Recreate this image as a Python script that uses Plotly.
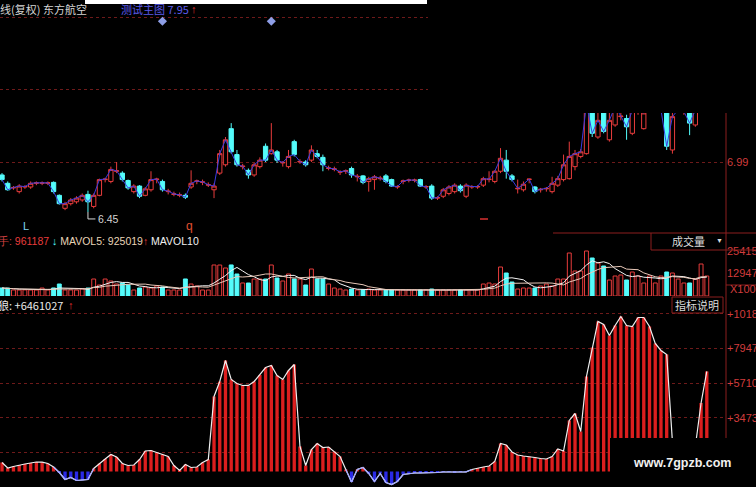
import plotly.graph_objects as go
import pandas as pd

W, H = 756, 487

# ---------------- data ----------------
open_ = [6.85, 6.76, 6.71, 6.67, 6.72, 6.72, 6.76, 6.76, 6.76, 6.77,
         6.63, 6.49, 6.54, 6.56, 6.58, 6.64, 6.51, 6.63, 6.80, 6.78,
         6.89, 6.87, 6.79, 6.67, 6.73, 6.63, 6.69, 6.80, 6.78, 6.67,
         6.64, 6.63, 6.63, 6.72, 6.78, 6.77, 6.74, 6.69, 6.87, 6.96,
         7.35, 7.07, 6.94, 6.90, 6.85, 6.94, 7.16, 7.08, 7.10, 6.98,
         6.94, 7.21, 6.99, 6.99, 7.01, 7.08, 7.04, 6.92, 6.91, 6.88,
         6.89, 6.92, 6.83, 6.84, 6.78, 6.80, 6.81, 6.84, 6.80, 6.72,
         6.78, 6.79, 6.79, 6.80, 6.72, 6.73, 6.60, 6.62, 6.65, 6.67,
         6.73, 6.62, 6.72, 6.72, 6.74, 6.80, 6.78, 6.89, 7.01, 6.84,
         6.70, 6.69, 6.80, 6.72, 6.69, 6.70, 6.67, 6.74, 6.80, 6.81,
         6.94, 7.05, 7.08, 7.66, 7.26, 7.59, 7.23, 7.39, 7.48, 7.46,
         7.30, 7.53, 7.35, 7.55, 7.57, 7.55, 7.59, 7.12, 7.55, 7.53,
         7.59, 7.39]
high = [6.87, 6.78, 6.73, 6.75, 6.74, 6.78, 6.78, 6.78, 6.78, 6.78,
        6.64, 6.56, 6.60, 6.62, 6.65, 6.68, 6.65, 6.81, 6.82, 6.94,
        6.99, 6.89, 6.80, 6.75, 6.74, 6.72, 6.89, 6.82, 6.80, 6.70,
        6.67, 6.66, 6.65, 6.90, 6.80, 6.80, 6.77, 6.76, 7.12, 7.26,
        7.41, 7.12, 6.97, 6.92, 6.98, 7.04, 7.19, 7.41, 7.12, 7.00,
        7.12, 7.23, 7.02, 7.01, 7.17, 7.12, 7.07, 6.95, 6.94, 6.90,
        6.91, 6.94, 6.86, 6.85, 6.83, 6.85, 6.84, 6.86, 6.81, 6.74,
        6.80, 6.81, 6.81, 6.81, 6.74, 6.75, 6.62, 6.71, 6.74, 6.76,
        6.75, 6.76, 6.74, 6.74, 6.83, 6.89, 6.90, 7.14, 7.12, 6.86,
        6.80, 6.78, 6.81, 6.73, 6.71, 6.72, 6.83, 6.84, 7.07, 7.21,
        7.12, 7.13, 7.66, 7.70, 7.52, 7.64, 7.55, 7.66, 7.52, 7.50,
        7.59, 7.57, 7.55, 7.59, 7.61, 7.59, 7.62, 7.55, 7.59, 7.57,
        7.62, 7.59]
low = [6.78, 6.68, 6.69, 6.65, 6.70, 6.70, 6.74, 6.74, 6.74, 6.65,
       6.53, 6.47, 6.52, 6.54, 6.56, 6.45, 6.49, 6.62, 6.77, 6.76,
       6.87, 6.78, 6.69, 6.65, 6.60, 6.62, 6.67, 6.76, 6.67, 6.64,
       6.62, 6.61, 6.59, 6.70, 6.75, 6.74, 6.72, 6.60, 6.85, 6.94,
       7.08, 6.94, 6.91, 6.81, 6.83, 6.92, 6.99, 7.07, 6.98, 6.94,
       6.92, 7.05, 6.97, 6.94, 6.99, 7.03, 6.89, 6.90, 6.89, 6.85,
       6.86, 6.82, 6.78, 6.75, 6.67, 6.69, 6.79, 6.76, 6.72, 6.70,
       6.75, 6.77, 6.77, 6.72, 6.70, 6.58, 6.58, 6.60, 6.63, 6.65,
       6.66, 6.60, 6.70, 6.70, 6.72, 6.77, 6.76, 6.87, 6.81, 6.78,
       6.65, 6.67, 6.76, 6.65, 6.66, 6.67, 6.65, 6.72, 6.78, 6.80,
       6.90, 7.03, 7.07, 7.26, 7.24, 7.30, 7.21, 7.37, 7.44, 7.23,
       7.28, 7.50, 7.34, 7.52, 7.53, 7.52, 7.12, 7.08, 7.52, 7.50,
       7.28, 7.37]
close = [6.80, 6.69, 6.715, 6.73, 6.725, 6.76, 6.765, 6.765, 6.765, 6.67,
         6.54, 6.54, 6.58, 6.60, 6.63, 6.56, 6.63, 6.80, 6.805, 6.91,
         6.895, 6.80, 6.71, 6.73, 6.62, 6.70, 6.80, 6.805, 6.69, 6.675,
         6.645, 6.635, 6.61, 6.76, 6.785, 6.775, 6.745, 6.73, 7.08, 7.23,
         7.10, 6.96, 6.945, 6.85, 6.96, 7.01, 7.01, 7.12, 7.01, 6.985,
         7.05, 7.07, 6.995, 6.96, 7.12, 7.05, 6.96, 6.925, 6.915, 6.885,
         6.895, 6.85, 6.835, 6.77, 6.81, 6.83, 6.815, 6.78, 6.73, 6.725,
         6.785, 6.795, 6.795, 6.73, 6.725, 6.60, 6.605, 6.69, 6.72, 6.74,
         6.68, 6.74, 6.725, 6.725, 6.81, 6.805, 6.89, 7.03, 6.89, 6.80,
         6.705, 6.75, 6.805, 6.67, 6.695, 6.705, 6.76, 6.81, 6.96, 7.05,
         7.08, 7.10, 7.62, 7.30, 7.44, 7.32, 7.44, 7.59, 7.485, 7.37,
         7.55, 7.535, 7.52, 7.555, 7.575, 7.555, 7.16, 7.48, 7.555, 7.535,
         7.41, 7.55]

volume = [4540, 4480, 3420, 3380, 3450, 3400, 3360, 4520, 3410, 4560,
          6800, 3390, 3430, 3370, 3980, 4520, 9640, 6240, 9620, 8500,
          6810, 7370, 6230, 3400, 4540, 5100, 4530, 5670, 5110, 3390,
          3420, 3380, 9650, 6790, 5680, 3410, 3390, 17580, 17560, 15880,
          17600, 12470, 7380, 7360, 9630, 9650, 9620, 17570, 10210, 8510,
          12480, 9640, 9630, 6240, 15310, 9650, 9620, 6800, 4530, 3970,
          3400, 3960, 3410, 3390, 3980, 3400, 3420, 3380, 3410, 3390,
          3400, 3420, 3380, 3400, 3410, 3970, 3390, 3420, 3400, 3380,
          3410, 3400, 3390, 3420, 6800, 7370, 6810, 16440, 13040, 7940,
          3970, 4540, 4520, 4530, 5670, 6800, 5680, 9640, 9630, 24380,
          14180, 14170, 25520, 21550, 18710, 17010, 9070, 11340, 11910, 9080,
          13610, 11340, 7370, 11350, 7380, 11330, 13600, 13040, 9640, 7370,
          7380, 9630, 18140, 11340]

indicator = [581000, 226000, 323000, 420000, 485000, 549000, 614000, 605000, 517000, 291000,
             -65000, -517000, -388000, -581000, -570000, -517000, 194000, 517000, 808000, 1098000,
             937000, 517000, 388000, 420000, 775000, 1324000, 1357000, 1227000, 1098000, 969000,
             388000, 65000, 452000, 258000, 291000, 581000, 775000, 4845000, 5814000, 7171000,
             5943000, 5685000, 5556000, 5560000, 5814000, 6234000, 6718000, 6848000, 6202000, 5943000,
             6525000, 6912000, 1615000, 388000, 1421000, 1809000, 1550000, 1583000, 1292000, 969000,
             129000, -678000, 129000, 258000, -129000, -646000, -129000, -711000, -840000, -646000,
             -194000, -129000, -97000, -97000, -100000, -95000, -65000, -32000, -30000, -35000,
             -32000, -20000, 129000, 226000, 291000, 355000, 646000, 1809000, 1712000, 1260000,
             1066000, 1001000, 969000, 904000, 840000, 808000, 969000, 1454000, 1324000, 3295000,
             3747000, 2584000, 6137000, 8010000, 9690000, 9496000, 8786000, 9432000, 10013000, 9432000,
             9367000, 9948000, 9950000, 9367000, 8269000, 7817000, 7558000, 1938000, 969000, 517000,
             323000, 1615000, 4425000, 6461027]

price_ticks = [6.99, 7.77, 8.55]
price_ticktext = ["6.99", "", ""]
vol_ticks = [25415, 12947]
vol_ticktext = ["25415", "12947"]
ind_ticks = [10184000, 7947000, 5710000, 3473000, 1236000]
ind_ticktext = ["+10184", "+7947", "+5710", "+3473", ""]

signal_idx = [28, 47]
signal_price = [8.51, 8.51]
low_mark_idx = 15
low_mark_text = "6.45"

# ---------------- helpers ----------------
def px(x):
    return x / W

def py(y):
    return 1 - y / H

RED = "#e83c3c"
CYAN = "#54fcfc"
GRID = "#6e1a1a"
BORDER = "#8c1e1e"

x_c = list(range(len(open_)))
x_v = list(range(len(volume)))

fig = go.Figure()

# main panel
fig.add_trace(go.Scatter(x=x_c, y=close, mode="lines", line=dict(color="#3c3ce0", width=1),
                         xaxis="x", yaxis="y", hoverinfo="skip"))
fig.add_trace(go.Candlestick(
    x=x_c, open=open_, high=high, low=low, close=close,
    increasing=dict(line=dict(color=RED, width=1), fillcolor="#000000"),
    decreasing=dict(line=dict(color=CYAN, width=1), fillcolor=CYAN),
    whiskerwidth=0, xaxis="x", yaxis="y"))
fig.add_trace(go.Scatter(x=signal_idx, y=signal_price, mode="markers",
                         marker=dict(symbol="diamond", size=7, color="#8e9ee6"),
                         xaxis="x", yaxis="y", hoverinfo="skip"))
lm_low = low[low_mark_idx]
fig.add_trace(go.Scatter(x=[low_mark_idx, low_mark_idx, low_mark_idx + 1.3],
                         y=[lm_low, lm_low - 0.075, lm_low - 0.075], mode="lines",
                         line=dict(color="#d8d8d8", width=1), xaxis="x", yaxis="y", hoverinfo="skip"))

# volume panel
up = [(close[i] >= open_[i]) if i < len(close) else True for i in x_v]
fig.add_trace(go.Bar(x=x_v, y=volume, width=0.68,
                     marker=dict(color=["#000000" if u else CYAN for u in up],
                                 line=dict(color=[RED if u else CYAN for u in up], width=1)),
                     xaxis="x2", yaxis="y2", hoverinfo="skip"))
vs = pd.Series(volume, dtype=float)
ma5 = vs.rolling(5, min_periods=1).mean()
ma10 = vs.rolling(10, min_periods=1).mean()
fig.add_trace(go.Scatter(x=x_v, y=ma5, mode="lines", line=dict(color="#f4f4f4", width=1),
                         xaxis="x2", yaxis="y2", hoverinfo="skip"))
fig.add_trace(go.Scatter(x=x_v, y=ma10, mode="lines", line=dict(color="#e8c8b8", width=1),
                         xaxis="x2", yaxis="y2", hoverinfo="skip"))

# indicator panel
fig.add_trace(go.Bar(x=x_v, y=indicator, width=0.58,
                     marker=dict(color=["#dc1e1e" if v >= 0 else "#2a2ae6" for v in indicator],
                                 line=dict(width=0)),
                     xaxis="x3", yaxis="y3", hoverinfo="skip"))
fig.add_trace(go.Scatter(x=x_v, y=indicator, mode="lines", line=dict(color="#f0f0f0", width=1.2),
                         xaxis="x3", yaxis="y3", hoverinfo="skip"))
neg_line = [v if (v < 0 or (i > 0 and indicator[i - 1] < 0) or (i + 1 < len(indicator) and indicator[i + 1] < 0)) else None
            for i, v in enumerate(indicator)]
fig.add_trace(go.Scatter(x=x_v, y=neg_line, mode="lines", line=dict(color="#a0a8ff", width=1.2),
                         xaxis="x3", yaxis="y3", hoverinfo="skip", connectgaps=False))

xa = dict(range=[-0.35, 126.35], domain=[0, px(726)], showgrid=False, zeroline=False,
          showticklabels=False, showline=False, fixedrange=True, automargin=False)
tickfont = dict(color="#d23c3c", size=11, family="Liberation Sans")
ya = dict(side="right", zeroline=False, ticks="", showline=False, tickfont=tickfont,
          fixedrange=True, automargin=False)

fig.update_layout(
    width=W, height=H, autosize=False,
    margin=dict(l=0, r=0, t=0, b=0, pad=0, autoexpand=False),
    paper_bgcolor="#000000", plot_bgcolor="#000000", showlegend=False,
    boxgap=0.25, boxgroupgap=0,
    xaxis=dict(**xa, anchor="y", rangeslider=dict(visible=False)),
    xaxis2=dict(**xa, anchor="y2", matches="x"),
    xaxis3=dict(**xa, anchor="y3", matches="x"),
    yaxis=dict(**ya, domain=[py(233), 1], range=[6.2232, 8.7396], anchor="x",
               tickvals=price_ticks, ticktext=price_ticktext, showgrid=True, gridcolor=GRID,
               griddash="dot", gridwidth=1),
    yaxis2=dict(**ya, domain=[py(296), py(233)], range=[0, 35721], anchor="x2",
                tickvals=vol_ticks, ticktext=vol_ticktext, showgrid=False),
    yaxis3=dict(**ya, domain=[0, py(297)], range=[-1001300, 11272700], anchor="x3",
                tickvals=ind_ticks, ticktext=ind_ticktext, showgrid=True, gridcolor=GRID,
                griddash="dot", gridwidth=1),
)

shapes = [
    # black overlay at top right (screenshot edit)
    dict(type="rect", xref="paper", yref="paper", x0=px(428), x1=1, y0=py(113), y1=1,
         fillcolor="#000000", line=dict(width=0), layer="above"),
    dict(type="rect", xref="paper", yref="paper", x0=px(85), x1=px(427), y0=py(4), y1=1,
         fillcolor="#ffffff", line=dict(width=0), layer="above"),
    dict(type="line", xref="paper", yref="paper", x0=px(726), x1=px(726), y0=py(113), y1=0,
         line=dict(color=BORDER, width=1), layer="above"),
    dict(type="line", xref="paper", yref="paper", x0=px(553), x1=1, y0=py(233), y1=py(233),
         line=dict(color=BORDER, width=1), layer="above"),
    dict(type="line", xref="paper", yref="paper", x0=px(651), x1=1, y0=py(250), y1=py(250),
         line=dict(color=BORDER, width=1), layer="above"),
    dict(type="line", xref="paper", yref="paper", x0=px(651), x1=px(651), y0=py(250), y1=py(233),
         line=dict(color=BORDER, width=1), layer="above"),
    dict(type="line", xref="paper", yref="paper", x0=px(726), x1=1, y0=py(285), y1=py(285),
         line=dict(color=BORDER, width=1), layer="above"),
    dict(type="rect", xref="paper", yref="paper", x0=px(672), x1=px(723), y0=py(313), y1=py(297),
         fillcolor="#000000", line=dict(color=BORDER, width=1), layer="above"),
    dict(type="line", xref="paper", yref="paper", x0=px(480), x1=px(488), y0=py(219), y1=py(219),
         line=dict(color="#d83030", width=1.5), layer="above"),
    # watermark box
    dict(type="rect", xref="paper", yref="paper", x0=px(610), x1=1, y0=0, y1=py(438),
         fillcolor="#000000", line=dict(width=0), layer="above"),
]
fig.update_layout(shapes=shapes)

CJK = "Noto Sans CJK SC, Liberation Sans, sans-serif"
LAT = "Liberation Sans, Arial, sans-serif"

def ann(x, y, text, color="#d8d8d8", size=11, family=LAT, xanchor="left"):
    return dict(xref="paper", yref="paper", x=px(x), y=py(y), text=text, showarrow=False,
                xanchor=xanchor, yanchor="middle", font=dict(color=color, size=size, family=family))

annotations = [
    ann(-13, 9, "日线(复权) 东方航空", color="#d4d4d4", size=11, family=CJK),
    ann(119, 9, "测试主图 7.95", color="#5a5ae8", size=11, family=CJK),
    ann(189, 9, "↑", color="#e83030", size=11),
    ann(21, 226, "L", color="#7fd4f0", size=11),
    ann(184, 226, "q", color="#e05030", size=12),
    ann((low_mark_idx + 1.35 + 0.35) * 5.73, 219, low_mark_text, color="#d4d4d4", size=10.5),
    ann(-4, 241, "<span style='color:#d04040'>手: </span><span style='color:#e83c3c'>961187</span> "
                 "<span style='color:#54fcfc'>↓</span> "
                 "<span style='color:#e8d4b8'>MAVOL5: 925019</span>"
                 "<span style='color:#e83c3c'>↑</span> "
                 "<span style='color:#f0f0f0'>MAVOL10</span>", size=10.5),
    ann(688, 241, "成交量", color="#dcdcdc", size=11, family=CJK, xanchor="center"),
    ann(719, 240, "▼", color="#dcdcdc", size=7, xanchor="center"),
    ann(728, 289, "X1000", color="#d23c3c", size=11),
    ann(-4, 305, "狼: +6461027", color="#e8e8e8", size=11, family=CJK),
    ann(66, 305, "↑", color="#e83030", size=11),
    ann(697, 305, "指标说明", color="#dcdcdc", size=11, family=CJK, xanchor="center"),
    ann(682, 463, "<b>www.7gpzb.com</b>", color="#f0f0f0", size=12.5, xanchor="center"),
]
fig.update_layout(annotations=annotations)

fig.write_html("out.html", config={"displayModeBar": False, "responsive": False},
               post_script="document.body.style.margin='0px';document.body.style.overflow='hidden';")
